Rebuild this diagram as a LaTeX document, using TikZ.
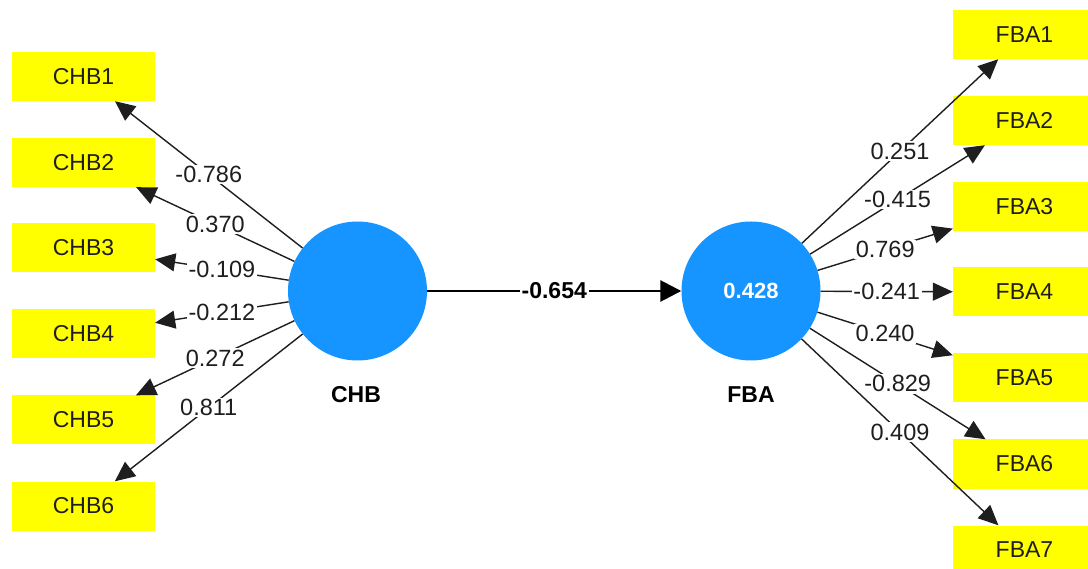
\documentclass[tikz,border=0pt]{standalone}
\usepackage{fontspec}
\setmainfont{Liberation Sans}
\usetikzlibrary{arrows.meta}
\definecolor{lvblue}{RGB}{22,148,255}
\definecolor{mvyellow}{RGB}{255,255,0}
\definecolor{txt}{RGB}{30,30,30}
\begin{document}
\begin{tikzpicture}[x=1pt,y=-1pt,
  ind/.style={rectangle, fill=mvyellow, minimum width=143pt, minimum height=49pt, inner sep=0pt, text=txt, font=\fontsize{23}{27}\selectfont},
  lv/.style={circle, fill=lvblue, minimum size=139pt, inner sep=0pt, text=white, font=\fontsize{22}{26}\selectfont\bfseries},
  lvname/.style={text=black, font=\fontsize{23}{27}\selectfont\bfseries},
  load/.style={draw=txt, line width=1.4pt, -{Triangle[length=20pt,width=18pt]}},
  wt/.style={fill=white, inner sep=1.5pt, text=txt, font=\fontsize{23.5}{27}\selectfont},
  path/.style={draw=black, line width=2.8pt, -{Triangle[length=21pt,width=21pt]}},
  pwt/.style={fill=white, inner sep=2pt, text=black, font=\fontsize{23}{27}\selectfont\bfseries}
]
\useasboundingbox[fill=white] (0,0) rectangle (1088,569);

% indicator boxes
\node[ind] (chb1) at (83.5,76.5) {CHB1};
\node[ind] (chb2) at (83.5,162.5) {CHB2};
\node[ind] (chb3) at (83.5,248) {CHB3};
\node[ind] (chb4) at (83.5,334) {CHB4};
\node[ind] (chb5) at (83.5,420) {CHB5};
\node[ind] (chb6) at (83.5,506) {CHB6};

\node[ind] (fba1) at (1024.5,34.5) {FBA1};
\node[ind] (fba2) at (1024.5,120.5) {FBA2};
\node[ind] (fba3) at (1024.5,206.5) {FBA3};
\node[ind] (fba4) at (1024.5,292) {FBA4};
\node[ind] (fba5) at (1024.5,378) {FBA5};
\node[ind] (fba6) at (1024.5,464) {FBA6};
\node[ind] (fba7) at (1024.5,550) {FBA7};

% latent variables
\node[lv] (chb) at (357.5,291) {};
\node[lv] (fba) at (751,291) {0.428};
\node[lvname] (chbname) at (356,395) {CHB};
\node[lvname] (fbaname) at (751,395) {FBA};

% outer loadings CHB
\draw[load] (chb) -- node[wt] {-0.786} (chb1);
\draw[load] (chb) -- node[wt] {0.370} (chb2);
\draw[load] (chb) -- node[wt] {-0.109} (chb3);
\draw[load] (chb) -- node[wt] {-0.212} (chb4);
\draw[load] (chb) -- node[wt] {0.272} (chb5);
\draw[load] (chb) -- node[wt] {0.811} (chb6);

% outer loadings FBA
\draw[load] (fba) -- node[wt] {0.251} (fba1);
\draw[load] (fba) -- node[wt] {-0.415} (fba2);
\draw[load] (fba) -- node[wt] {0.769} (fba3);
\draw[load] (fba) -- node[wt] {-0.241} (fba4);
\draw[load] (fba) -- node[wt] {0.240} (fba5);
\draw[load] (fba) -- node[wt] {-0.829} (fba6);
\draw[load] (fba) -- node[wt] {0.409} (fba7);

% path
\draw[path] (chb) -- node[pwt] {-0.654} (fba);
\end{tikzpicture}
\end{document}
